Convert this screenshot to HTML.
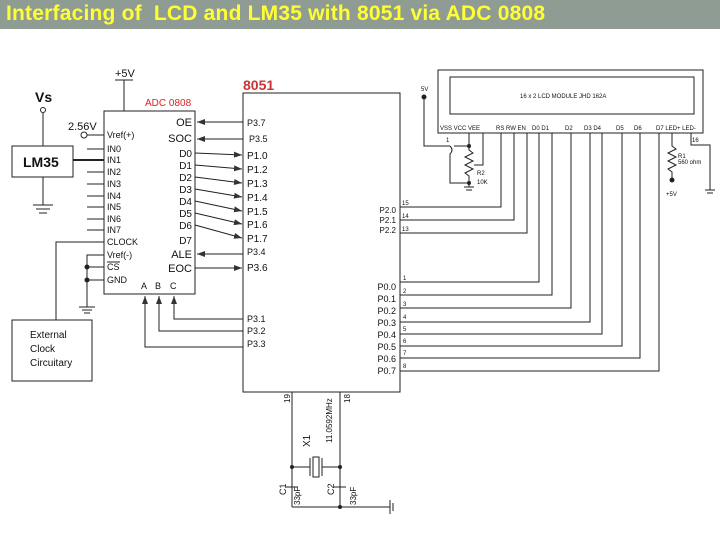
<!DOCTYPE html>
<html><head><meta charset="utf-8"><style>
body{margin:0;width:720px;height:540px;background:#fff;overflow:hidden;font-family:"Liberation Sans",sans-serif}
.t{position:absolute;left:0;top:0;width:720px;height:29px;background:#8f9c94}
.t span{position:absolute;left:6px;top:2px;color:#ffff33;font-size:21px;font-weight:bold;letter-spacing:0.2px;white-space:nowrap}
svg{position:absolute;left:0;top:0}
text{font-family:"Liberation Sans",sans-serif;fill:#111}
</style></head><body>
<div class="t"><span>Interfacing of &nbsp;LCD and LM35 with 8051 via ADC 0808</span></div>
<svg width="720" height="540" viewBox="0 0 720 540">
<defs><marker id="a" markerWidth="8" markerHeight="6" refX="8" refY="3" orient="auto" markerUnits="userSpaceOnUse"><path d="M0,0L8,3L0,6z" fill="#333"/></marker></defs>
<g stroke="#222" stroke-width="1" fill="none">
<rect x="104" y="111" width="91" height="183"/>
<line x1="124" y1="80" x2="124" y2="111"/><line x1="115" y1="80" x2="133" y2="80"/>
<circle cx="43" cy="110" r="2.5"/><line x1="43" y1="113" x2="43" y2="146"/>
<rect x="12" y="146" width="61" height="31"/>
<line x1="43" y1="177" x2="43" y2="205"/>
<line x1="33" y1="205" x2="53" y2="205"/><line x1="36" y1="209" x2="50" y2="209"/><line x1="39" y1="213" x2="47" y2="213"/>
<circle cx="84" cy="135" r="3"/><line x1="87" y1="135" x2="104" y2="135"/>
<line x1="87" y1="149" x2="104" y2="149"/>
<line x1="73" y1="160" x2="104" y2="160" stroke-width="2"/>
<line x1="87" y1="172" x2="104" y2="172"/><line x1="87" y1="184" x2="104" y2="184"/>
<line x1="87" y1="196" x2="104" y2="196"/><line x1="87" y1="207" x2="104" y2="207"/>
<line x1="87" y1="219" x2="104" y2="219"/><line x1="87" y1="230" x2="104" y2="230"/>
<polyline points="56,320 56,242 104,242"/>
<polyline points="104,255 87,255 87,307"/>
<line x1="87" y1="267" x2="104" y2="267"/><line x1="87" y1="280" x2="104" y2="280"/>
<line x1="79" y1="307" x2="95" y2="307"/><line x1="82" y1="310" x2="92" y2="310"/><line x1="84" y1="313" x2="90" y2="313"/>
<rect x="12" y="320" width="80" height="61"/>
<line x1="243" y1="122" x2="197" y2="122" marker-end="url(#a)"/>
<line x1="243" y1="139" x2="197" y2="139" marker-end="url(#a)"/>
<line x1="195" y1="153" x2="242" y2="155" marker-end="url(#a)"/>
<line x1="195" y1="165" x2="242" y2="169" marker-end="url(#a)"/>
<line x1="195" y1="177" x2="242" y2="183" marker-end="url(#a)"/>
<line x1="195" y1="189" x2="242" y2="197" marker-end="url(#a)"/>
<line x1="195" y1="201" x2="242" y2="211" marker-end="url(#a)"/>
<line x1="195" y1="213" x2="242" y2="224" marker-end="url(#a)"/>
<line x1="195" y1="225" x2="242" y2="238" marker-end="url(#a)"/>
<line x1="243" y1="254" x2="197" y2="254" marker-end="url(#a)"/>
<line x1="195" y1="268" x2="242" y2="268" marker-end="url(#a)"/>
<polyline points="243,319 174,319 174,296" marker-end="url(#a)"/>
<polyline points="243,331 159,331 159,296" marker-end="url(#a)"/>
<polyline points="243,347 145,347 145,296" marker-end="url(#a)"/>
<rect x="243" y="93" width="157" height="299"/>
<line x1="292" y1="392" x2="292" y2="507"/><line x1="340" y1="392" x2="340" y2="507"/>
<line x1="292" y1="467" x2="310" y2="467"/><line x1="322" y1="467" x2="340" y2="467"/>
<line x1="310" y1="458" x2="310" y2="476"/><line x1="322" y1="458" x2="322" y2="476"/>
<rect x="313" y="457" width="6" height="20"/>
<line x1="286" y1="487" x2="298" y2="487"/><line x1="334" y1="487" x2="346" y2="487"/>
<line x1="292" y1="507" x2="390" y2="507"/>
<line x1="390" y1="500" x2="390" y2="514"/><line x1="393" y1="503" x2="393" y2="511"/>
<polyline points="400,207 501,207 501,133"/>
<polyline points="400,220 514,220 514,133"/>
<polyline points="400,233 527,233 527,133"/>
<polyline points="400,282 539,282 539,133"/>
<polyline points="400,295 552,295 552,133"/>
<polyline points="400,308 571,308 571,133"/>
<polyline points="400,322 590,322 590,133"/>
<polyline points="400,334 602,334 602,133"/>
<polyline points="400,346 622,346 622,133"/>
<polyline points="400,358 640,358 640,133"/>
<polyline points="400,371 659,371 659,133"/>
<rect x="438" y="70" width="265" height="63"/>
<rect x="450" y="77" width="244" height="37"/>
<polyline points="424,97 424,146 450,146"/>
<path d="M450,146 q4,4 0,8 L450,183 L469,183"/>
<polyline points="454,146 469,146 469,133"/>
<polyline points="469,146 469,150 473,153 465,157 473,161 465,165 473,169 465,173 469,176 469,183 469,187"/>
<line x1="464" y1="187" x2="474" y2="187"/><line x1="466" y1="190" x2="472" y2="190"/>
<polyline points="483,133 483,165 474,165"/>
<polyline points="672,133 672,146 676,149 668,153 676,157 668,161 676,165 668,169 672,172 672,180"/>
<polyline points="691,133 691,145 710,145 710,190"/>
<line x1="705" y1="190" x2="715" y2="190"/><line x1="707" y1="193" x2="713" y2="193"/>
</g>
<g fill="#222">
<circle cx="87" cy="267" r="2.5"/><circle cx="87" cy="280" r="2.5"/>
<circle cx="292" cy="467" r="2"/><circle cx="340" cy="467" r="2"/><circle cx="340" cy="507" r="2"/>
<circle cx="424" cy="97" r="2.5"/><circle cx="469" cy="146" r="2"/><circle cx="469" cy="183" r="2"/><circle cx="672" cy="180" r="2.5"/>
</g>
<g font-size="10">
<text x="115" y="77" font-size="11">+5V</text>
<text x="35" y="102" font-size="14" font-weight="bold">Vs</text>
<text x="23" y="167" font-size="14" font-weight="bold">LM35</text>
<text x="68" y="130" font-size="11">2.56V</text>
<text x="145" y="106" style="fill:#d22">ADC 0808</text>
<text x="243" y="90" font-size="14" font-weight="bold" style="fill:#c33">8051</text>
<text x="107" y="138" font-size="9">Vref(+)</text>
<text x="107" y="152" font-size="9">IN0</text><text x="107" y="163" font-size="9">IN1</text>
<text x="107" y="175" font-size="9">IN2</text><text x="107" y="187" font-size="9">IN3</text>
<text x="107" y="199" font-size="9">IN4</text><text x="107" y="210" font-size="9">IN5</text>
<text x="107" y="222" font-size="9">IN6</text><text x="107" y="233" font-size="9">IN7</text>
<text x="107" y="245" font-size="9">CLOCK</text><text x="107" y="258" font-size="9">Vref(-)</text>
<text x="107" y="270" font-size="9">CS</text><line x1="107" y1="262" x2="120" y2="262" stroke="#222"/>
<text x="107" y="283" font-size="9">GND</text>
<g text-anchor="end">
<text x="192" y="126" font-size="11">OE</text><text x="192" y="142" font-size="11">SOC</text>
<text x="192" y="157">D0</text><text x="192" y="169">D1</text><text x="192" y="181">D2</text>
<text x="192" y="193">D3</text><text x="192" y="205">D4</text><text x="192" y="217">D5</text>
<text x="192" y="229">D6</text><text x="192" y="244">D7</text>
<text x="192" y="258" font-size="11">ALE</text><text x="192" y="272" font-size="11">EOC</text>
</g>
<text x="141" y="289" font-size="9">A</text><text x="155" y="289" font-size="9">B</text><text x="170" y="289" font-size="9">C</text>
<text x="247" y="126" font-size="9">P3.7</text><text x="249" y="142" font-size="9">P3.5</text>
<text x="247" y="159">P1.0</text><text x="247" y="173">P1.2</text><text x="247" y="187">P1.3</text>
<text x="247" y="201">P1.4</text><text x="247" y="215">P1.5</text><text x="247" y="228">P1.6</text>
<text x="247" y="242">P1.7</text><text x="247" y="255" font-size="9">P3.4</text><text x="247" y="271">P3.6</text>
<text x="247" y="322" font-size="9">P3.1</text><text x="247" y="334" font-size="9">P3.2</text><text x="247" y="347" font-size="9">P3.3</text>
<g text-anchor="end" font-size="8">
<text x="396" y="213">P2.0</text><text x="396" y="223">P2.1</text><text x="396" y="233">P2.2</text>
<text x="396" y="290" font-size="9">P0.0</text><text x="396" y="302" font-size="9">P0.1</text>
<text x="396" y="314" font-size="9">P0.2</text><text x="396" y="326" font-size="9">P0.3</text>
<text x="396" y="338" font-size="9">P0.4</text><text x="396" y="350" font-size="9">P0.5</text>
<text x="396" y="362" font-size="9">P0.6</text><text x="396" y="374" font-size="9">P0.7</text>
</g>
<g font-size="6">
<text x="402" y="205">15</text><text x="402" y="218">14</text><text x="402" y="231">13</text>
<text x="403" y="280">1</text><text x="403" y="293">2</text><text x="403" y="306">3</text><text x="403" y="319">4</text>
<text x="403" y="331">5</text><text x="403" y="343">6</text><text x="403" y="355">7</text><text x="403" y="368">8</text>
<text x="421" y="91">5V</text>
<text x="520" y="98">16 x 2 LCD MODULE JHD 162A</text>
<text x="440" y="130">VSS VCC VEE</text><text x="496" y="130">RS RW EN</text>
<text x="532" y="130">D0 D1</text><text x="565" y="130">D2</text><text x="584" y="130">D3 D4</text>
<text x="616" y="130">D5</text><text x="634" y="130">D6</text><text x="656" y="130">D7 LED+ LED-</text>
<text x="446" y="142">1</text><text x="692" y="142">16</text>
<text x="477" y="175">R2</text><text x="477" y="184">10K</text>
<text x="678" y="158">R1</text><text x="678" y="164">560 ohm</text>
<text x="666" y="196">+5V</text>
</g>
<text x="30" y="338" font-size="10">External</text><text x="30" y="352" font-size="10">Clock</text><text x="30" y="366" font-size="10">Circuitary</text>
<g font-size="8">
<text transform="translate(290,403) rotate(-90)">19</text>
<text transform="translate(350,403) rotate(-90)">18</text>
<text transform="translate(310,447) rotate(-90)" font-size="10">X1</text>
<text transform="translate(332,443) rotate(-90)">11.0592MHz</text>
<text transform="translate(286,495) rotate(-90)" font-size="9">C1</text>
<text transform="translate(300,505) rotate(-90)">33pF</text>
<text transform="translate(334,495) rotate(-90)" font-size="9">C2</text>
<text transform="translate(356,505) rotate(-90)">33pF</text>
</g>
</g>
</svg>
</body></html>
